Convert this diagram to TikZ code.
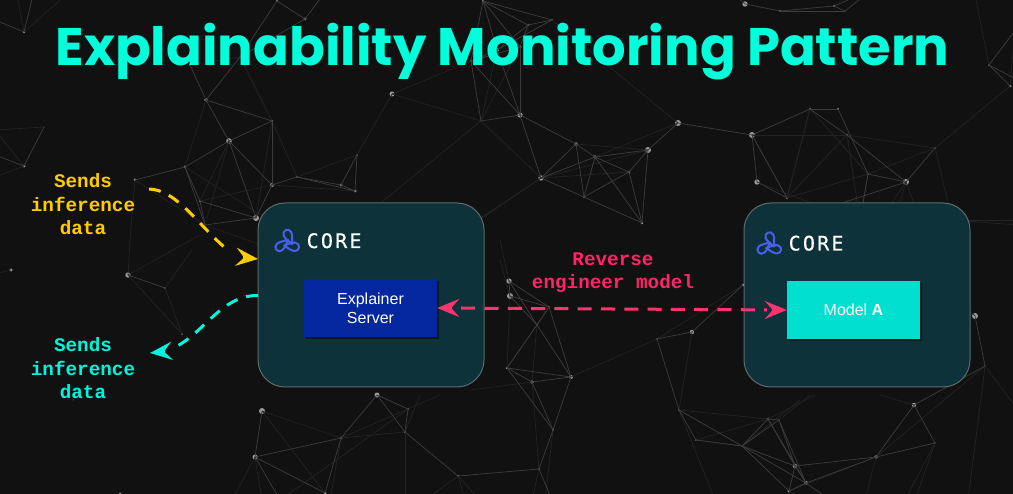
\documentclass[tikz,border=0pt]{standalone}
\usepackage{fontspec}
\usetikzlibrary{arrows.meta,shadows}
\setmainfont{Liberation Sans}
\newfontfamily\titlefont{Poppins}
\newfontfamily\labelfont{Liberation Mono}
\newfontfamily\corefont[LetterSpace=11,FakeBold=0.5]{DejaVu Sans Mono}
\definecolor{bg}{HTML}{111111}
\definecolor{panel}{HTML}{0D3239}
\definecolor{panelline}{HTML}{5E6A6C}
\definecolor{titlecol}{HTML}{00FFDA}
\definecolor{yellowcol}{HTML}{FFCC00}
\definecolor{cyancol}{HTML}{00F5DC}
\definecolor{pinkcol}{HTML}{FF3370}
\definecolor{pinktext}{HTML}{FF2468}
\definecolor{logoblue}{HTML}{4A5EF0}
\definecolor{serverblue}{HTML}{04269F}
\definecolor{modelcol}{HTML}{00DFD0}
\definecolor{linkbright}{HTML}{3D3D3D}
\definecolor{linkfaint}{HTML}{232323}
\definecolor{dotcol}{HTML}{9A9A9A}
\tikzset{
  panelbox/.style={draw=panelline,line width=1pt,fill=panel,rounded corners=27pt,minimum width=226pt,minimum height=184pt,inner sep=0pt},
  innerbox/.style={minimum width=133pt,minimum height=58pt,inner sep=0pt,text=white,align=center,font=\fontsize{16}{19}\selectfont,
     drop shadow={shadow xshift=1.5pt,shadow yshift=-2pt,opacity=.45,fill=black}},
  sidelabel/.style={font=\labelfont\bfseries\fontsize{19.3}{23.5}\selectfont,align=center,inner sep=0pt},
  corelabel/.style={font=\corefont\fontsize{20}{20}\selectfont,text=white,inner sep=0pt,anchor=base west},
  flow/.style={line width=3pt,dash pattern=on 12pt off 9pt},
  headtip/.style={line width=3pt,-{Stealth[length=22pt,width=18pt,inset=8pt]}},
  brightedge/.style={draw=linkbright,line width=.7pt},
  faintedge/.style={draw=linkfaint,line width=.7pt},
  tear/.style={draw=logoblue,line width=2pt,line join=round},
}
\newcommand{\teardrop}[3]{\draw[tear,shift={(#1,#2)},rotate=#3] (0,0) .. controls (-1.5,-3.5) and (-4.2,-7.5) .. (-4.2,-11) .. controls (-4.2,-16.5) and (4.2,-16.5) .. (4.2,-11) .. controls (4.2,-7.5) and (1.5,-3.5) .. cycle;}
\newcommand{\corelogo}[2]{\begin{scope}[shift={(#1,#2)}]\teardrop{292}{244}{24}\teardrop{288}{240}{130}\teardrop{284}{245.5}{-97}\end{scope}}
\begin{document}
\begin{tikzpicture}[x=1pt,y=-1pt]
\useasboundingbox (0,0) rectangle (1013,494);
\fill[bg] (0,0) rectangle (1013,494);
\begin{scope}
\clip (0,0) rectangle (1013,494);
% network points: name/x/y/radius
\foreach \n/\x/\y/\r in {
a1/24/32/1.3,a2/24/166/1.6,a3/44/127/.3,
b1/190/65/1,b2/206/100/1.8,b3/229/141/2.8,b4/272/121/1,b5/185/167/1.5,b6/135/180/1.5,b7/200/201/1.2,b8/205/225/.5,b9/256/218/3,b10/272/185/2,b11/297/177/1,
n1/305/19/1.5,n2/277/1/1,t1/240/57/.3,
c1/392/94/2.5,c2/357/155/1,c3/341/185/1.5,c4/355/191/1.5,
d1/483/1/1.2,d2/528/25/1,d3/552/20/.8,d4/497/50/2,d5/520/47/1.5,d6/471/61/1.2,d7/481/121/.8,d8/520/115/2.6,
e1/576/144/1.8,e2/595/157/1.8,e3/629/172/1.3,e4/648/150/3,e5/678/123/3,e6/541/178/2.7,e7/584/197/1,e8/642/223/1.3,
f1/745/4/2.7,f2/780/11/1,f3/834/6/1,f4/845/11/.6,f5/752/135/3,f6/757/182/2.7,f7/787/198/1.2,f8/810/109/1,f9/838/109/1,f10/847/135/1,f11/868/174/1,f12/906/182/3,f13/935/148/1,
g1/989/65/1,g2/1010/86/1.5,
h1/11/270/1.6,h2/128/275/2.7,h3/165/288/1,h4/182/334/.8,
i1/262/411/3,i2/255/457/2.5,i4/325/493/1.5,i5/120/494/1.5,i6/73/400/.5,
j1/377/395/2.5,j2/408/409/1,j3/405/432/1.2,j4/341/438/1.5,j5/458/476/1.2,j6/539/469/1,j7/553/430/1,j8/532/382/1.8,j9/507/368/1.3,j10/571/377/2,j11/537/325/1.1,j12/549/307/.8,j13/509/281/2.7,j14/510/296/3,
k1/657/339/.8,k2/692/332/2.2,k3/679/410/.8,q/743/285/1.5,
l1/768/419/1.5,l2/779/420/.6,l3/742/446/.8,l4/696/440/.8,l5/795/466/2.2,l6/806/483/2,l7/789/491/1.7,
m1/876/457/1.8,m2/914/405/2.2,m3/935/443/.6,m4/985/366/.6,m5/975/316/3}
{\coordinate (\n) at (\x,\y); \fill[dotcol] (\x,\y) circle (\r);}
% open ends of the network
\foreach \n/\x/\y in {
o1/-5/20,o2/17/-5,o3/33/-5,o4/66/-5,o5/-5/155,o6/-5/177,o7/-5/130,o8/-5/274,o9/192/250,o10/200/235,o11/130/240,
o12/323/-5,o13/735/-5,o14/860/-5,o15/865/-5,o16/1013/33,o17/1018/80,o18/1018/-5,o19/975/-5,
o20/232/500,o21/262/500,o22/280/500,o23/330/500,o24/405/500,o25/425/500,o26/465/500,o27/480/500,o28/532/500,o29/552/500,o30/545/500,
o31/715/500,o32/805/500,o33/830/500,o34/865/500,o35/905/500,o36/915/500,o37/968/500,o38/1018/410,o39/1018/220,o40/1018/225,
o41/860/220,o42/880/220,o43/895/220,o44/920/220,o45/952/220,o46/450/240,o47/470/225,o48/500/240,o49/500/260,o50/470/390,o51/440/395,o52/420/395,o53/810/395,o54/815/395,o55/800/400,o56/880/395,o57/960/300,o58/855/220,o59/275/250,o60/285/230,o61/760/230,o62/372/210}
{\coordinate (\n) at (\x,\y);}
% faint links
\foreach \p/\q in {
a2/o7,a3/o7,a1/o2,a1/o4,a2/o6,b1/t1,b2/b5,b3/b7,b3/b8,t1/b4,b4/b9,b6/o11,b6/b8,b7/b10,b8/o59,b11/b4,b5/o60,b10/c4,
c1/c2,c1/d6,c1/d7,c2/b11,d7/o62,d3/e5,d7/e6,e1/e4,e6/e3,e6/o46,e6/o47,e5/e2,e6/e4,d4/d7,d5/d7,d6/d5,
f5/f10,f5/f7,f6/o58,f7/f8,f7/f10,f7/f11,f10/f13,f11/f13,f8/f11,f8/f7,f13/g2,f13/o45,f12/o42,f12/o43,f12/o44,f11/o41,f10/o41,
g1/o19,g2/o18,h2/o10,h2/o11,h3/o9,h1/o8,h2/h4,h3/h4,
i1/i4,i1/j4,i2/o20,i2/o21,j2/o51,j3/j4,j4/j2,j4/o23,j3/o24,j3/o52,j5/o25,j5/o26,j5/o27,j6/o28,j7/o30,j8/o50,j8/j6,j10/k1,j11/j8,j12/j9,j14/j9,j13/o48,j14/o49,k3/o31,k3/l1,l4/l1,k2/k3,
l7/m1,l4/l3,l7/o32,l2/o53,l1/o54,l3/o55,m4/m1,m2/o56,m3/o35,m1/o34,m3/o36,m4/o38,m4/o37,m5/o57,k1/q,j2/o22,o39/o45,o40/o45}
{\draw[faintedge] (\p) -- (\q);}
% brighter links
\foreach \p/\q in {
a1/o1,a1/o3,a2/a3,a2/o5,b1/b2,b2/b3,b2/b4,b3/b4,b3/b5,b3/b9,b3/b10,b4/b10,b5/b6,b5/b7,b5/b8,b7/b8,b7/b9,b8/b9,b9/b10,b10/b11,b11/c3,b11/c4,c3/c4,c2/c3,c2/c4,
n2/n1,n1/t1,n2/t1,b2/t1,n1/o12,
d1/d2,d1/d3,d1/d4,d1/d6,d1/d5,d2/d3,d2/d4,d3/d4,d2/d5,d4/d6,d5/d6,d6/d7,d6/d8,d7/d8,d5/d8,d4/d8,
d8/e1,d8/e6,e6/e1,e6/e2,e6/e7,e1/e2,e2/e3,e1/e7,e2/e7,e3/e7,e3/e4,e2/e4,e4/e8,e3/e8,e7/e8,e2/e8,e4/e5,
f1/f2,f2/f3,f3/f4,f2/f4,f3/o14,f4/o15,f1/o13,f5/f6,f5/f7,f6/f7,f5/f8,f8/f9,f8/f10,f9/f11,f10/f12,f11/f12,f12/f13,f5/e5,
g1/g2,g1/o16,g1/o17,f11/o41,f12/o61,
h2/h3,
i1/i2,i2/j4,i2/i4,j4/i4,i2/o22,
j1/j2,j1/j3,j2/j3,j1/j4,j3/j5,j5/j6,j6/j7,j7/j9,j7/j8,j7/j10,j8/j9,j8/j10,j9/j10,j9/j11,j10/j11,j10/j12,j11/j12,j11/j13,j11/j14,j12/j13,j12/j14,j13/j14,j6/o29,
k1/k2,k1/k3,k2/q,k3/l3,k3/l4,l4/l3,l1/l3,l2/l3,l1/l2,l1/l5,l2/l5,l2/l6,l3/l5,l3/l6,l3/l7,l5/l6,l5/l7,l6/l7,l5/m1,l6/m1,l1/l6,
m5/m4,m4/m2,m2/m3,m2/m1,m1/m3,l6/o33}
{\draw[brightedge] (\p) -- (\q);}
\end{scope}

% title
\node[font=\titlefont\bfseries\fontsize{52.8}{53}\selectfont,text=titlecol,inner sep=0pt,anchor=base] (title) at (502.5,66) {Explainability Monitoring Pattern};

% panels
\node[panelbox] (coreleft) at (371,295) {};
\node[panelbox] (coreright) at (857,295) {};
\corelogo{0}{0}
\corelogo{482}{2.5}
\node[corelabel] (corea) at (306.5,248) {CORE};
\node[corelabel] (coreb) at (788.5,250.5) {CORE};
\node[innerbox,fill=serverblue] (server) at (370.5,308) {Explainer\\Server};
\node[innerbox,fill=modelcol] (model) at (853.5,310) {Model \textbf{A}};

% labels
\node[sidelabel,text=yellowcol] (sendsin) at (83,204.5) {Sends\\inference\\data};
\node[sidelabel,text=cyancol] (sendsout) at (83,368.5) {Sends\\inference\\data};
\node[sidelabel,text=pinktext] (reverse) at (613,272.5) {Reverse\\engineer model};

% connectors
\coordinate (yellowstart) at (149,189);
\coordinate (yellowmid) at (229,251);
\coordinate (yellowback) at (243,257.5);
\coordinate (yellowend) at (258,259);
\coordinate (cyanstart) at (258,295.5);
\coordinate (cyanmid) at (171,349);
\coordinate (cyanback) at (165,351.5);
\coordinate (cyanend) at (150,353);
\draw[flow,yellowcol] (yellowstart) .. controls (178,190) and (200,228) .. (yellowmid);
\draw[headtip,yellowcol] (yellowback) -- (yellowend);
\draw[flow,cyancol] (cyanstart) .. controls (220,295) and (203,336) .. (cyanmid);
\draw[headtip,cyancol] (cyanback) -- (cyanend);
\draw[line width=3pt,dash pattern=on 14pt off 9.3pt,pinkcol,shorten <=24pt,shorten >=20pt] (server.east) -- (model.west);
\draw[headtip,pinkcol] ([xshift=15pt]server.east) -- (server.east);
\draw[headtip,pinkcol] ([xshift=-15pt]model.west) -- (model.west);
\end{tikzpicture}
\end{document}
